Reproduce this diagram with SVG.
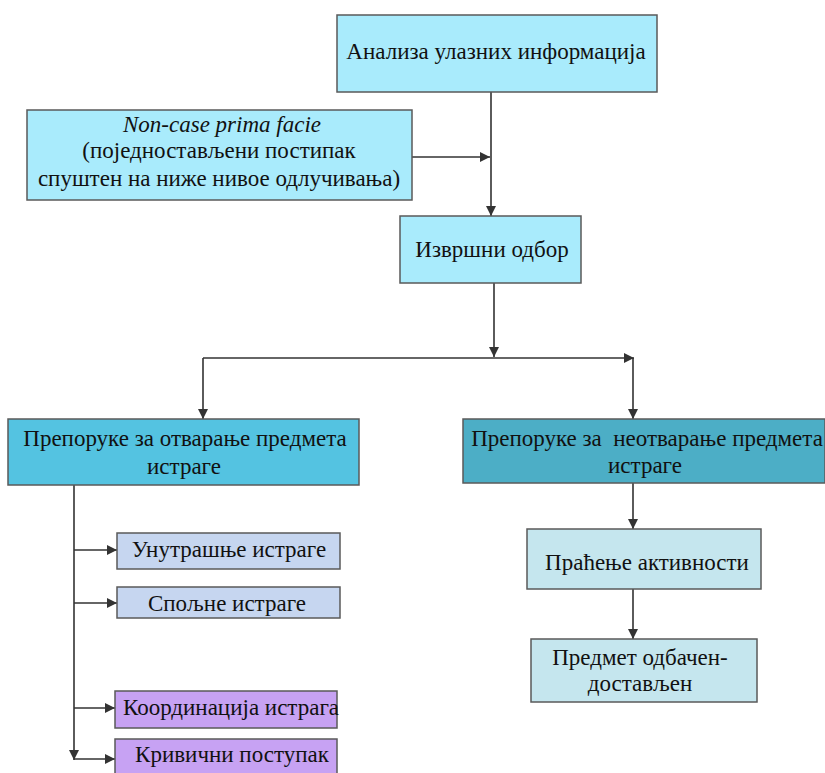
<svg xmlns="http://www.w3.org/2000/svg" width="825" height="773" viewBox="0 0 825 773">
<defs>
<marker id="ah" viewBox="0 0 10 10" refX="10" refY="5" markerWidth="10" markerHeight="10" markerUnits="userSpaceOnUse" orient="auto">
<path d="M0,0 L10,5 L0,10 z" fill="#333"/>
</marker>
</defs>
<style>
.b{stroke:#5a5a5a;stroke-width:1.5}
.t{font-family:"Liberation Serif","Times New Roman",serif;font-size:23px;fill:#111;text-anchor:middle}
.c{fill:none;stroke:#333;stroke-width:1.6}
</style>
<rect width="825" height="773" fill="#fff"/>
<g id="connectors">
<path class="c" d="M491,92 V216" marker-end="url(#ah)"/>
<path class="c" d="M412,157 H490" marker-end="url(#ah)"/>
<path class="c" d="M494,283 V357" marker-end="url(#ah)"/>
<path class="c" d="M203,358 H634" marker-end="url(#ah)"/>
<path class="c" d="M203,358 V419" marker-end="url(#ah)"/>
<path class="c" d="M633,358 V419" marker-end="url(#ah)"/>
<path class="c" d="M633,483 V529" marker-end="url(#ah)"/>
<path class="c" d="M633,589 V639" marker-end="url(#ah)"/>
<path class="c" d="M74,485 V760" marker-end="url(#ah)"/>
<path class="c" d="M74,550 H117" marker-end="url(#ah)"/>
<path class="c" d="M74,603 H117" marker-end="url(#ah)"/>
<path class="c" d="M74,708 H115" marker-end="url(#ah)"/>
<path class="c" d="M74,759 H115" marker-end="url(#ah)"/>
</g>
<g id="analiza">
<rect class="b" x="337" y="15" width="320" height="77" fill="#A9EBFC"/>
<text class="t" x="496" y="59">Анализа улазних информација</text>
</g>
<g id="noncase">
<rect class="b" x="27" y="110" width="385" height="90" fill="#A9EBFC"/>
<text class="t" x="222" y="132" font-style="italic">Non-case prima facie</text>
<text class="t" x="219" y="158">(поједностављени постипак</text>
<text class="t" x="219" y="186">спуштен на ниже нивое одлучивања)</text>
</g>
<g id="izvrsni">
<rect class="b" x="400" y="216" width="181" height="67" fill="#A9EBFC"/>
<text class="t" x="492" y="257">Извршни одбор</text>
</g>
<g id="otvaranje">
<rect class="b" x="8" y="419" width="351" height="66" fill="#54C3E1"/>
<text class="t" x="185" y="446">Препоруке за отварање предмета</text>
<text class="t" x="184" y="474">истраге</text>
</g>
<g id="neotvaranje">
<rect class="b" x="463" y="419" width="362" height="64" fill="#4CAEC6"/>
<text class="t" x="647" y="446" style="white-space:pre">Препоруке за  неотварање предмета</text>
<text class="t" x="645" y="473">истраге</text>
</g>
<g id="unutrasnje">
<rect class="b" x="117" y="533" width="223" height="36" fill="#C6D6F0"/>
<text class="t" x="229" y="557">Унутрашње истраге</text>
</g>
<g id="spoljne">
<rect class="b" x="117" y="587" width="223" height="31" fill="#C6D6F0"/>
<text class="t" x="227" y="611">Спољне истраге</text>
</g>
<g id="koordinacija">
<rect class="b" x="115" y="691" width="222" height="37" fill="#C7A2F3"/>
<text class="t" x="231" y="715">Координација истрага</text>
</g>
<g id="krivicni">
<rect class="b" x="115" y="739" width="222" height="40" fill="#C7A2F3"/>
<text class="t" x="232" y="762">Кривични поступак</text>
</g>
<g id="pracenje">
<rect class="b" x="527" y="529" width="234" height="60" fill="#C5E6EE"/>
<text class="t" x="647" y="570">Праћење активности</text>
</g>
<g id="predmet">
<rect class="b" x="531" y="639" width="226" height="63" fill="#C5E6EE"/>
<text class="t" x="640" y="665">Предмет одбачен-</text>
<text class="t" x="640" y="691">достављен</text>
</g>
</svg>
